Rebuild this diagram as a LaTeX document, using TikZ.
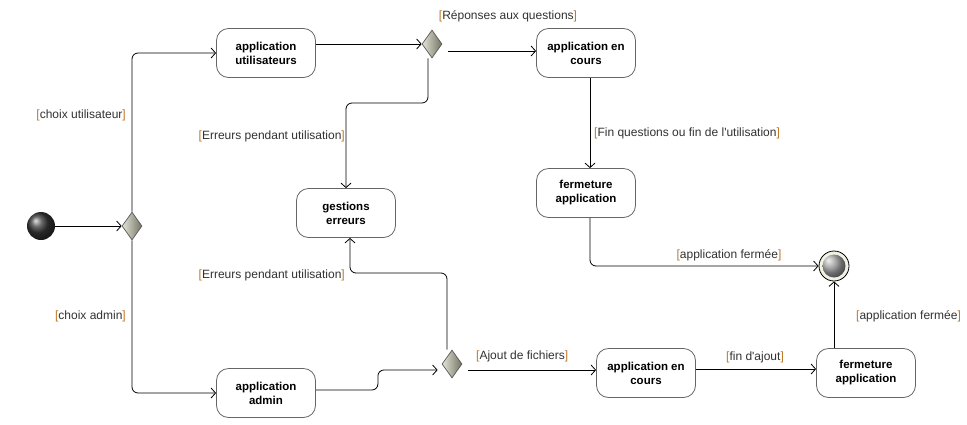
\documentclass[tikz,border=0pt]{standalone}
\usepackage{fontspec}
\setmainfont{Liberation Sans}
\usetikzlibrary{arrows.meta,shapes.geometric}
\definecolor{brk}{RGB}{190,120,40}
\definecolor{guardtxt}{RGB}{50,50,50}
\definecolor{cream}{RGB}{242,242,228}
\definecolor{dlight}{RGB}{228,228,215}
\definecolor{ddark}{RGB}{115,115,100}
\newcommand{\grd}[1]{\textcolor{brk}{[}#1\textcolor{brk}{]}}
\begin{document}
\begin{tikzpicture}[x=1pt,y=-1pt,
  act/.style={draw=black!60, line width=0.8pt, rounded corners=12pt, fill=white,
    minimum width=99pt, minimum height=49pt, align=center, inner sep=0pt,
    font=\fontsize{11.5}{14}\selectfont\bfseries},
  dec/.style={diamond, draw=black!65, line width=0.7pt, minimum width=20pt, minimum height=28pt,
    inner sep=0pt, left color=dlight, right color=ddark},
  flow/.style={draw=black, line width=0.8pt, rounded corners=6pt,
    -{Straight Barb[length=4.5pt,width=10pt,line width=0.8pt]}},
  guard/.style={font=\fontsize{12}{14}\selectfont, text=guardtxt, inner sep=1pt},
  startnode/.style={circle, minimum size=28pt, inner sep=0pt, shading=ball, ball color=black!78},
  endnode/.style={circle, minimum size=30pt, inner sep=0pt, draw=black, line width=0.8pt, fill=cream,
    path picture={\shade[ball color=black!40] (path picture bounding box.center) circle (11.5pt);}},
]
\useasboundingbox[fill=white] (0,0) rectangle (967,424);

% nodes
\node[startnode] (init) at (41,226) {};
\node[dec] (d1) at (132,226) {};
\node[act] (appU) at (266,53) {application\\utilisateurs};
\node[dec] (d2) at (432,44) {};
\node[act] (cours1) at (586,53) {application en\\cours};
\node[act] (err) at (346,213) {gestions\\erreurs};
\node[act] (ferm1) at (586,193) {fermeture\\application};
\node[endnode] (fin) at (834,266) {};
\node[act] (admin) at (266,393) {application\\admin};
\node[dec] (d3) at (452,364) {};
\node[act] (cours2) at (646,373) {application en\\cours};
\node[act] (ferm2) at (866,373) {fermeture\\application};

% helper coordinates
\coordinate (e1) at (0,103);
\coordinate (e2) at (0,273);
\coordinate (d2o) at ([shift={(6pt,-7pt)}]d2.east);
\coordinate (d3i) at ([shift={(-4pt,-6pt)}]d3.west);
\coordinate (d3o) at ([shift={(6pt,-6pt)}]d3.east);
\coordinate (ad1) at ([yshift=3pt]admin.east);
\coordinate (ad2) at ([xshift=62pt,yshift=3pt]admin.east);

% connectors
\draw[flow] (init) -- (d1.west);
\draw[flow] (d1.north) |- (appU.west);
\draw[flow] (d1.south) |- (admin.west);
\draw[flow] (appU.east |- d2) -- (d2.west);
\draw[flow] (d2o) -- (d2o -| cours1.west);
\draw[flow] ([xshift=-4pt]d2.south) -- ([xshift=-4pt]d2.south |- e1) -| (err.north);
\draw[flow] ([xshift=4pt]cours1.south) -- ([xshift=4pt]ferm1.north);
\draw[flow] ([xshift=4pt]ferm1.south) |- (fin.west);
\draw[flow] (ad1) -- (ad2) |- (d3i);
\draw[flow] (d3o) -- (d3o -| cours2.west);
\draw[flow] ([xshift=-5pt]d3.north) -- ([xshift=-5pt]d3.north |- e2) -| ([xshift=4pt]err.south);
\draw[flow] ([yshift=4pt]cours2.east) -- ([yshift=4pt]ferm2.west);
\draw[flow] (ferm2.north -| fin) -- (fin.south);

% guards
\node[guard, anchor=east] (g1) at (127,115) {\grd{choix utilisateur}};
\node[guard, anchor=east] (g2) at (127,316) {\grd{choix admin}};
\node[guard] (g3) at (508,16) {\grd{Réponses aux questions}};
\node[guard, anchor=east] (g4) at (346,136) {\grd{Erreurs pendant utilisation}};
\node[guard, anchor=west] (g5) at (593,133) {\grd{Fin questions ou fin de l\textquotesingle utilisation}};
\node[guard] (g6) at (729,255) {\grd{application fermée}};
\node[guard, anchor=east] (g7) at (346,275) {\grd{Erreurs pendant utilisation}};
\node[guard, anchor=west] (g8) at (475,356) {\grd{Ajout de fichiers}};
\node[guard] (g9) at (755,357) {\grd{fin d\textquotesingle ajout}};
\node[guard, anchor=west] (g10) at (855,316) {\grd{application fermée}};
\end{tikzpicture}
\end{document}
